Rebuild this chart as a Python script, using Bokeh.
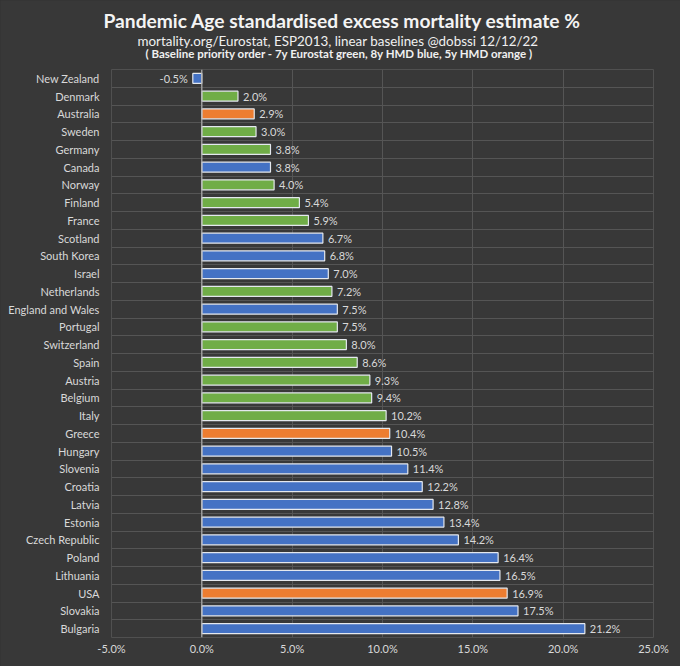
from bokeh.plotting import figure
from bokeh.models import (ColumnDataSource, FixedTicker, Range1d, Span, Title,
                          PrintfTickFormatter, LinearAxis)
from bokeh.core.properties import value
from bokeh.embed import file_html
from bokeh.resources import INLINE

countries = ["New Zealand", "Denmark", "Australia", "Sweden", "Germany", "Canada",
             "Norway", "Finland", "France", "Scotland", "South Korea", "Israel",
             "Netherlands", "England and Wales", "Portugal", "Switzerland", "Spain",
             "Austria", "Belgium", "Italy", "Greece", "Hungary", "Slovenia", "Croatia",
             "Latvia", "Estonia", "Czech Republic", "Poland", "Lithuania", "USA",
             "Slovakia", "Bulgaria"]
excess = [-0.5, 2.0, 2.9, 3.0, 3.8, 3.8, 4.0, 5.4, 5.9, 6.7, 6.8, 7.0, 7.2, 7.5,
          7.5, 8.0, 8.6, 9.3, 9.4, 10.2, 10.4, 10.5, 11.4, 12.2, 12.8, 13.4, 14.2,
          16.4, 16.5, 16.9, 17.5, 21.2]
baseline = ["HMD8", "EU7", "HMD5", "EU7", "EU7", "HMD8", "EU7", "EU7", "EU7", "HMD8",
            "HMD8", "HMD8", "EU7", "HMD8", "EU7", "EU7", "EU7", "EU7", "EU7", "EU7",
            "HMD5", "HMD8", "HMD8", "HMD8", "HMD8", "HMD8", "HMD8", "HMD8", "HMD8",
            "HMD5", "HMD8", "HMD8"]
baseline_colors = {"EU7": "#70ad47", "HMD8": "#4472c4", "HMD5": "#ed7d31"}
x_ticks = [-5, 0, 5, 10, 15, 20, 25]
title_lines = [
    "Pandemic Age standardised excess mortality estimate %",
    "mortality.org/Eurostat, ESP2013, linear baselines @dobssi 12/12/22",
    "( Baseline priority order - 7y Eurostat green, 8y HMD blue, 5y HMD orange )",
]

FONT = "Lato"
BG = "#383838"
TXT = "#d9d9d9"

n = len(countries)
ypos = [n - 1 - i for i in range(n)]
src = ColumnDataSource(dict(
    y=ypos,
    v=excess,
    color=[baseline_colors[b] for b in baseline],
    label=["%.1f%%" % v for v in excess],
    align=["left" if v >= 0 else "right" for v in excess],
    xoff=[5 if v >= 0 else -5 for v in excess],
))

p = figure(frame_width=542, frame_height=568, output_backend="svg", toolbar_location=None,
           x_range=Range1d(x_ticks[0], x_ticks[-1]), y_range=Range1d(-0.5, n - 0.5),
           min_border_left=111, min_border_right=27, min_border_bottom=29,
           min_border_top=69)
p.title = None
p.background_fill_color = BG
p.border_fill_color = BG
p.outline_line_color = "#505050"

p.hbar(y="y", left=0, right="v", height=0.56, fill_color="color",
       line_color="#e4e8ee", line_width=1.2, source=src)
p.text(x="v", y="y", text="label", text_align="align", x_offset="xoff",
       text_baseline="middle", text_color=TXT, text_font=value(FONT),
       text_font_size="11px", source=src)

p.add_layout(Span(location=0, dimension="height", line_color="#b0b0b0", line_width=1.2))

p.xaxis.ticker = FixedTicker(ticks=x_ticks)
p.xaxis.formatter = PrintfTickFormatter(format="%.1f%%")
p.yaxis.ticker = FixedTicker(ticks=ypos)
p.yaxis.major_label_overrides = {y: c for y, c in zip(ypos, countries)}
for ax in (p.xaxis, p.yaxis):
    ax.axis_line_color = None
    ax.major_tick_line_color = None
    ax.minor_tick_line_color = None
    ax.major_tick_out = 0
    ax.minor_tick_out = 0
    ax.major_label_text_color = TXT
    ax.major_label_text_font = FONT
    ax.major_label_text_font_size = "11px"
p.yaxis.major_label_standoff = 12
p.xaxis.major_label_standoff = 4

p.xgrid.ticker = FixedTicker(ticks=x_ticks)
p.xgrid.grid_line_color = "#555555"
p.ygrid.ticker = FixedTicker(ticks=[k + 0.5 for k in range(-1, n)])
p.ygrid.grid_line_color = "#555555"

# unlabelled top axis with invisible ticks, used only as a gap below the heading
gap_axis = LinearAxis(ticker=FixedTicker(ticks=x_ticks[:1]), axis_line_color=None,
                      major_tick_line_color=None, minor_tick_line_color=None,
                      major_tick_out=10, minor_tick_out=0, major_label_standoff=0,
                      major_label_overrides={x_ticks[0]: ""},
                      major_label_text_font_size="1px")
p.add_layout(gap_axis, "above")

t3 = Title(text=title_lines[2], align="left", offset=34, text_color="#f0f0f0",
           text_font=FONT, text_font_size="11.5px", text_font_style="bold", standoff=0)
t2 = Title(text=title_lines[1], align="left", offset=26, text_color="#f0f0f0",
           text_font=FONT, text_font_size="13.4px", text_font_style="normal", standoff=-9)
t1 = Title(text=title_lines[0], align="left", offset=-8, text_color="#f4f4f4",
           text_font=FONT, text_font_size="19.2px", text_font_style="bold", standoff=8)
p.add_layout(t3, "above")
p.add_layout(t2, "above")
p.add_layout(t1, "above")

html = file_html(p, INLINE)
html = html.replace("<head>", "<head><style>body{background-color:#343434;}</style>", 1)
open("out.html", "w").write(html)
